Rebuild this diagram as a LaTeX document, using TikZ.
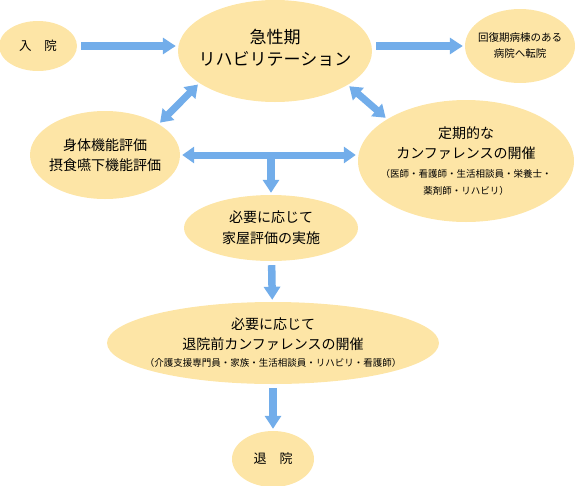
\documentclass[tikz,border=0pt]{standalone}
\usepackage{fontspec}
\setmainfont{Noto Sans CJK JP}
\usetikzlibrary{shapes.geometric,arrows.meta}
\definecolor{LYellow}{RGB}{253,229,166}
\definecolor{LBlue}{RGB}{114,173,234}
\newcommand{\bigtxt}{\fontsize{14}{17}\selectfont}
\newcommand{\smalltxt}{\fontsize{9.5}{12}\selectfont}
\tikzset{blob/.style={ellipse,fill=LYellow,inner sep=0pt},
  txt/.style={align=center,inner sep=0pt},
  fat/.style={line width=7.5pt,draw=LBlue,shorten <=4pt,shorten >=2pt,
    -{Triangle[width=16pt,length=13pt]}},
  fatboth/.style={line width=7pt,draw=LBlue,shorten <=2pt,shorten >=2pt,
    {Triangle[width=16pt,length=12pt]}-{Triangle[width=16pt,length=12pt]}}}

\begin{document}
\begin{tikzpicture}[x=1pt,y=-1pt]
\useasboundingbox (0,0) rectangle (575,485);

% ellipses
\node[blob,minimum width=78pt,minimum height=50pt] (nyuin) at (38,46) {};
\node[blob,minimum width=194pt,minimum height=102pt] (kyusei) at (275,51) {};
\node[blob,minimum width=110pt,minimum height=74pt] (tenin) at (520,46) {};
\node[blob,minimum width=150pt,minimum height=88pt] (shintai) at (105,155) {};
\node[blob,minimum width=216pt,minimum height=122pt] (teiki) at (466,161) {};
\node[blob,minimum width=174pt,minimum height=66pt] (kaoku) at (271,228) {};
\node[blob,minimum width=332pt,minimum height=82pt] (kaigi) at (273,343) {};
\node[blob,minimum width=82pt,minimum height=56pt] (taiin) at (273,459) {};

% texts
\node[txt,font=\fontsize{12.5}{15}\selectfont] (nyuin-t) at (nyuin) {入\quad 院};
\node[txt,font=\fontsize{17}{22}\selectfont] (kyusei-t) at ([yshift=3pt]kyusei) {急性期\\リハビリテーション};
\node[txt,font=\fontsize{10.5}{16}\selectfont] (tenin-t) at (tenin) {回復期病棟のある\\病院へ転院};
\node[txt,font=\fontsize{14}{20}\selectfont] (shintai-t) at (shintai) {身体機能評価\\摂食嚥下機能評価};
\node[txt,font=\bigtxt] (teiki-t) at (teiki) {定期的な\\[3pt]カンファレンスの開催\\[2pt]\smalltxt （医師・看護師・生活相談員・栄養士・\\\smalltxt 薬剤師・リハビリ）};
\node[txt,font=\fontsize{14}{21}\selectfont] (kaoku-t) at (kaoku) {必要に応じて\\家屋評価の実施};
\node[txt,font=\bigtxt] (kaigi-t) at (kaigi) {必要に応じて\\[3pt]退院前カンファレンスの開催\\\smalltxt （介護支援専門員・家族・生活相談員・リハビリ・看護師）};
\node[txt,font=\fontsize{13}{15}\selectfont] (taiin-t) at (taiin) {退\quad 院};

% arrows
\draw[fat] (nyuin.east) -- (nyuin.east -| kyusei.west);
\draw[fat] (kyusei.east |- tenin.west) -- (tenin.west);
\draw[fatboth] (kyusei.203) -- (shintai.30);
\draw[fatboth] (kyusei.335) -- (teiki.152);
\draw[fatboth] (shintai.east) -- coordinate (mid) (shintai.east -| teiki.west);
\draw[fat,shorten <=0pt] (kaoku.north |- mid) -- (kaoku.north);
\draw[fat] (kaoku) -- (kaigi);
\draw[fat] (kaigi) -- (taiin);

\end{tikzpicture}
\end{document}
